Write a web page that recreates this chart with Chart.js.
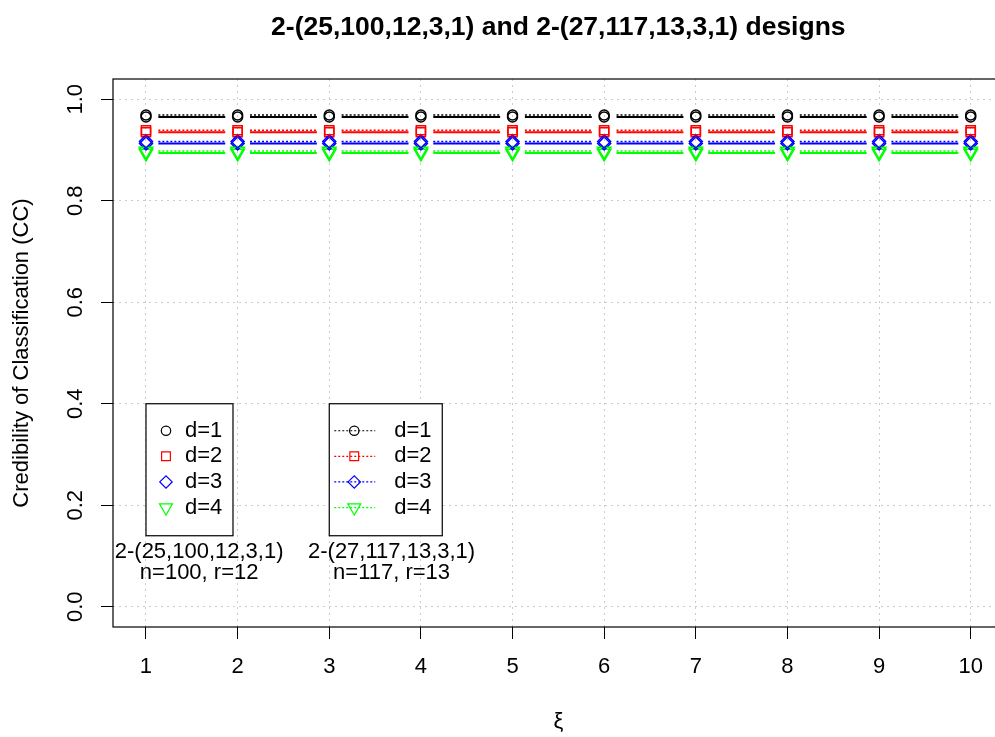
<!DOCTYPE html>
<html>
<head>
<meta charset="utf-8">
<script src="https://cdn.jsdelivr.net/npm/chart.js@4/dist/chart.umd.min.js"></script>
<style>
html, body { margin: 0; padding: 0; background: #fff; overflow: hidden; }
#wrap { width: 1013px; height: 737px; }
</style>
</head>
<body>
<div id="wrap"><canvas id="myChart" width="1013" height="737"></canvas></div>
<script>
const xValues = [1, 2, 3, 4, 5, 6, 7, 8, 9, 10];
const yTicks = [0, 0.2, 0.4, 0.6, 0.8, 1.0];
const seriesLabels = ['d=1', 'd=2', 'd=3', 'd=4'];
const designLabels = ['2-(25,100,12,3,1)', '2-(27,117,13,3,1)'];
const designNotes = ['n=100, r=12', 'n=117, r=13'];

// 2-(25,100,12,3,1) design
const design1D1 = [0.965, 0.965, 0.965, 0.965, 0.965, 0.965, 0.965, 0.965, 0.965, 0.965];
const design1D2 = [0.935, 0.935, 0.935, 0.935, 0.935, 0.935, 0.935, 0.935, 0.935, 0.935];
const design1D3 = [0.913, 0.913, 0.913, 0.913, 0.913, 0.913, 0.913, 0.913, 0.913, 0.913];
const design1D4 = [0.894, 0.894, 0.894, 0.894, 0.894, 0.894, 0.894, 0.894, 0.894, 0.894];

// 2-(27,117,13,3,1) design
const design2D1 = [0.969, 0.969, 0.969, 0.969, 0.969, 0.969, 0.969, 0.969, 0.969, 0.969];
const design2D2 = [0.939, 0.939, 0.939, 0.939, 0.939, 0.939, 0.939, 0.939, 0.939, 0.939];
const design2D3 = [0.917, 0.917, 0.917, 0.917, 0.917, 0.917, 0.917, 0.917, 0.917, 0.917];
const design2D4 = [0.898, 0.898, 0.898, 0.898, 0.898, 0.898, 0.898, 0.898, 0.898, 0.898];

const FONT = '"Liberation Sans", Arial, Helvetica, sans-serif';
const colors = ['#000000', '#ff0000', '#0000ff', '#00ff00'];
const markers = ['circle', 'rect', 'rectRot', 'triangle'];
const markerRadius = [5, 6.5, 6.5, 7.8];
const markerRotation = [0, 0, 0, 180];
const GAP = 0.135; // type "b" gap around points, in x units

function gapped(values) {
    const pts = [];
    for (let i = 0; i < values.length - 1; i++) {
        pts.push({ x: xValues[i] + GAP, y: values[i] });
        pts.push({ x: xValues[i + 1] - GAP, y: values[i + 1] });
        pts.push({ x: xValues[i] + 0.5, y: null });
    }
    return pts;
}

const design1Series = [design1D1, design1D2, design1D3, design1D4];
const design2Series = [design2D1, design2D2, design2D3, design2D4];

const datasets = [];
[[design2Series, false], [design1Series, true]].forEach(([group, solid]) => {
    group.forEach((values, k) => {
        datasets.push({
            data: gapped(values),
            borderColor: colors[k],
            borderWidth: solid ? 2 : 1.5,
            borderDash: solid ? [] : [2, 2],
            pointRadius: 0,
            fill: false,
        });
        datasets.push({
            data: values.map((v, i) => ({ x: xValues[i], y: v })),
            showLine: false,
            pointStyle: markers[k],
            pointRadius: markerRadius[k],
            pointRotation: markerRotation[k],
            pointBorderColor: colors[k],
            pointBackgroundColor: 'transparent',
            pointBorderWidth: 1.5,
        });
    });
});

function drawSymbol(ctx, style, x, y, r) {
    ctx.beginPath();
    if (style === 'circle') {
        ctx.arc(x, y, r, 0, Math.PI * 2);
    } else if (style === 'rect') {
        const h = r * Math.SQRT1_2;
        ctx.rect(x - h, y - h, 2 * h, 2 * h);
    } else if (style === 'rectRot') {
        ctx.moveTo(x - r, y);
        ctx.lineTo(x, y - r);
        ctx.lineTo(x + r, y);
        ctx.lineTo(x, y + r);
        ctx.closePath();
    } else {
        const s = r * Math.sin(Math.PI / 3);
        ctx.moveTo(x, y + r);
        ctx.lineTo(x - s, y - r / 2);
        ctx.lineTo(x + s, y - r / 2);
        ctx.closePath();
    }
    ctx.stroke();
}

const decorations = {
    id: 'decorations',
    afterDraw(chart) {
        const { ctx, chartArea, scales } = chart;
        const xs = scales.x, ys = scales.y;
        ctx.save();

        // plot box
        ctx.strokeStyle = '#000';
        ctx.lineWidth = 1.2;
        ctx.setLineDash([]);
        ctx.strokeRect(chartArea.left, chartArea.top, chartArea.right - chartArea.left, chartArea.bottom - chartArea.top);

        // title
        ctx.fillStyle = '#000';
        ctx.font = 'bold 26.5px ' + FONT;
        ctx.textAlign = 'center';
        ctx.textBaseline = 'middle';
        ctx.fillText('2-(25,100,12,3,1) and 2-(27,117,13,3,1) designs', (chartArea.left + chartArea.right) / 2, 28);

        // rotated y tick labels
        ctx.font = '22px ' + FONT;
        yTicks.forEach(v => {
            ctx.save();
            ctx.translate(76, ys.getPixelForValue(v));
            ctx.rotate(-Math.PI / 2);
            ctx.fillText(v.toFixed(1), 0, 0);
            ctx.restore();
        });

        // legends
        const legends = [
            { x: 1, w: 87, sym: 20, text: 39, line: false },
            { x: 3, w: 113, sym: 25, text: 65, line: true },
        ];
        const top = ys.getPixelForValue(0.4);
        legends.forEach(lg => {
            const left = xs.getPixelForValue(lg.x);
            ctx.fillStyle = '#fff';
            ctx.fillRect(left, top, lg.w, 132);
            ctx.strokeStyle = '#000';
            ctx.lineWidth = 1.2;
            ctx.setLineDash([]);
            ctx.strokeRect(left, top, lg.w, 132);
            seriesLabels.forEach((lab, k) => {
                const y = top + 27 + k * 25.6;
                ctx.strokeStyle = colors[k];
                if (lg.line) {
                    ctx.lineWidth = 1.2;
                    ctx.setLineDash([2, 2]);
                    ctx.beginPath();
                    ctx.moveTo(left + 5, y);
                    ctx.lineTo(left + 46, y);
                    ctx.stroke();
                }
                ctx.setLineDash([]);
                ctx.lineWidth = 1.2;
                drawSymbol(ctx, markers[k], left + lg.sym, y, markerRadius[k] - 0.3);
                ctx.fillStyle = '#000';
                ctx.textAlign = 'left';
                ctx.fillText(lab, left + lg.text, y);
            });
        });

        // design captions
        const captionX = [1.58, 3.68];
        ctx.textAlign = 'center';
        ctx.fillStyle = '#000';
        designLabels.forEach((lab, i) => {
            const cx = xs.getPixelForValue(captionX[i]);
            ctx.fillText(lab, cx, ys.getPixelForValue(0.108));
            ctx.fillText(designNotes[i], cx, ys.getPixelForValue(0.066));
        });
        ctx.restore();
    },
};

new Chart(document.getElementById('myChart').getContext('2d'), {
    type: 'line',
    data: { datasets },
    plugins: [decorations],
    options: {
        responsive: false,
        animation: false,
        devicePixelRatio: 1,
        layout: { padding: { top: 79, right: 7, left: 0, bottom: 0 } },
        plugins: {
            legend: { display: false },
            tooltip: { enabled: false },
        },
        scales: {
            x: {
                type: 'linear',
                min: 0.64,
                max: 10.36,
                afterBuildTicks: axis => { axis.ticks = xValues.map(v => ({ value: v })); },
                afterFit: scale => { scale.height = 110; },
                ticks: {
                    color: '#000',
                    font: { family: FONT, size: 22 },
                    padding: 15,
                    autoSkip: false,
                    maxRotation: 0,
                    callback: v => String(v),
                },
                grid: {
                    color: '#cccccc',
                    lineWidth: 1,
                    tickColor: '#000',
                    tickLength: 12,
                    tickWidth: 1,
                    tickBorderDash: [],
                },
                border: { display: false, dash: [2, 4] },
                title: {
                    display: true,
                    text: 'ξ',
                    color: '#000',
                    font: { family: FONT, size: 22 },
                    padding: { top: 0, bottom: 2 },
                },
            },
            y: {
                min: -0.04,
                max: 1.04,
                afterBuildTicks: axis => { axis.ticks = yTicks.map(v => ({ value: v })); },
                afterFit: scale => { scale.width = 113; },
                ticks: { display: false },
                grid: {
                    color: '#cccccc',
                    lineWidth: 1,
                    tickColor: '#000',
                    tickLength: 12,
                    tickWidth: 1,
                    tickBorderDash: [],
                },
                border: { display: false, dash: [2, 4] },
                title: {
                    display: true,
                    text: 'Credibility of Classification (CC)',
                    color: '#000',
                    font: { family: FONT, size: 22 },
                    padding: { top: 9, bottom: 0 },
                },
            },
        },
    },
});
</script>
</body>
</html>
